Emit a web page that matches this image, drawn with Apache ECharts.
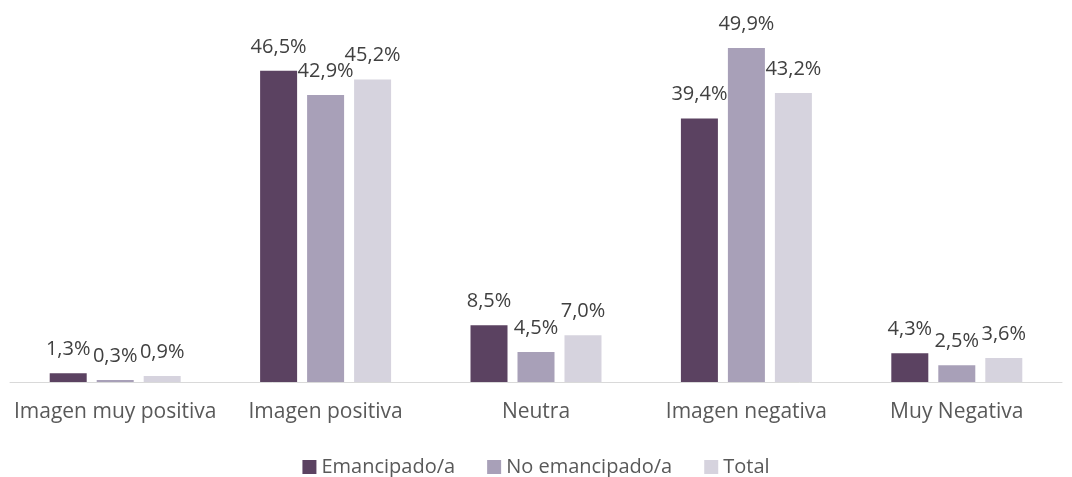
<!DOCTYPE html>
<html><head><meta charset="utf-8">
<script src="https://cdn.jsdelivr.net/npm/echarts@6/dist/echarts.min.js"></script>
<style>html,body{margin:0;padding:0;background:#fff}#c{width:1072px;height:477px}</style>
</head><body><div id="c"></div>
<script>
var categories = ["Imagen muy positiva","Imagen positiva","Neutra","Imagen negativa","Muy Negativa"];
var seriesNames = ["Emancipado/a","No emancipado/a","Total"];
var emancipado = [1.3,46.5,8.5,39.4,4.3];
var noEmancipado = [0.3,42.9,4.5,49.9,2.5];
var total = [0.9,45.2,7.0,43.2,3.6];
var colors = ["#5B4261","#A8A0B8","#D6D3DE"];
var font = "'Open Sans', sans-serif";
function mk(name, data, color){
  return {name:name,type:'bar',data:data,barWidth:37,barGap:'27%',
    itemStyle:{color:color},
    label:{show:true,position:'top',distance:14,color:'#404040',fontFamily:font,fontSize:20,
      formatter:function(p){return p.value.toFixed(1).replace('.',',')+'%';}}};
}
var chart = echarts.init(document.getElementById('c'));
chart.setOption({
  animation:false,
  color:colors,
  grid:{left:10,right:10,top:14,bottom:95,containLabel:false},
  legend:{top:452,left:'center',itemWidth:14,itemHeight:14,itemGap:32,itemTextGap:5,icon:'rect',
    textStyle:{color:'#595959',fontFamily:font,fontSize:20}},
  xAxis:{type:'category',data:categories,axisLine:{lineStyle:{color:'#D9D9D9'}},axisTick:{show:false},
    axisLabel:{color:'#595959',fontFamily:font,fontSize:21,margin:20,interval:0}},
  yAxis:{type:'value',min:0,max:55,show:false,splitLine:{show:false}},
  series:[mk(seriesNames[0],emancipado,colors[0]),mk(seriesNames[1],noEmancipado,colors[1]),mk(seriesNames[2],total,colors[2])]
});
</script></body></html>
